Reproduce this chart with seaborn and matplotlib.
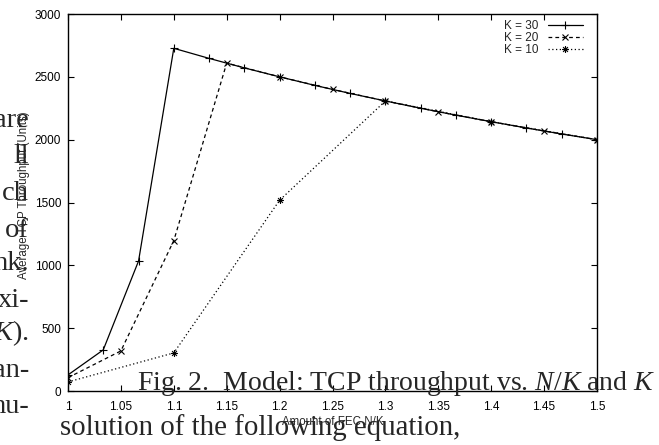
import numpy as np
import pandas as pd
import matplotlib
matplotlib.use("Agg")
import matplotlib.pyplot as plt
from matplotlib.path import Path
import seaborn as sns

# ---- data ----
x_k30 = [1.0, 1.0333, 1.0667, 1.1, 1.1333, 1.1667, 1.2, 1.2333, 1.2667, 1.3,
         1.3333, 1.3667, 1.4, 1.4333, 1.4667, 1.5]
y_k30 = [128, 327, 1035, 2727, 2647, 2571, 2500, 2432, 2368, 2308,
         2250, 2195, 2143, 2093, 2045, 2000]
x_k20 = [1.0, 1.05, 1.1, 1.15, 1.2, 1.25, 1.3, 1.35, 1.4, 1.45, 1.5]
y_k20 = [106, 319, 1197, 2609, 2500, 2400, 2308, 2222, 2143, 2069, 2000]
x_k10 = [1.0, 1.1, 1.2, 1.3, 1.4, 1.5]
y_k10 = [72, 303, 1518, 2308, 2143, 2000]
series_labels = ["K = 30", "K = 20", "K = 10"]
x_ticks = [1, 1.05, 1.1, 1.15, 1.2, 1.25, 1.3, 1.35, 1.4, 1.45, 1.5]
x_ticklabels = ["1", "1.05", "1.1", "1.15", "1.2", "1.25", "1.3", "1.35", "1.4", "1.45", "1.5"]
y_ticks = [0, 500, 1000, 1500, 2000, 2500, 3000]
x_label = "Amount of FEC N/K"
y_label = "Average TCP Throughput (Units)"

# overlapping text of the page
left_words = ["are", "ll", "ch", "of", "nk.", "xi-", "$K$).", "an-", "nu-"]
left_baselines = [127, 163, 200, 237, 270, 307, 340, 377, 413]
caption = "Fig. 2.  Model: TCP throughput vs. $N/K$ and $K$"
body_line = "solution of the following equation,"

sns.set_style("ticks")
plt.rcParams["font.family"] = ["Liberation Sans", "DejaVu Sans"]
plt.rcParams["mathtext.fontset"] = "custom"
plt.rcParams["mathtext.rm"] = "Liberation Serif"
plt.rcParams["mathtext.it"] = "Liberation Serif:italic"

W, H = 659, 445
fig = plt.figure(figsize=(W / 100, H / 100), dpi=100)
ax = fig.add_axes([68 / W, 1 - 391 / H, (597 - 68) / W, (391 - 14) / H])

# gnuplot-like star marker (plus + cross)
star = Path([(-1, 0), (1, 0), (0, -1), (0, 1), (-0.7, -0.7), (0.7, 0.7), (-0.7, 0.7), (0.7, -0.7)],
            [Path.MOVETO, Path.LINETO, Path.MOVETO, Path.LINETO,
             Path.MOVETO, Path.LINETO, Path.MOVETO, Path.LINETO])

df30 = pd.DataFrame({"x": x_k30, "y": y_k30})
df20 = pd.DataFrame({"x": x_k20, "y": y_k20})
df10 = pd.DataFrame({"x": x_k10, "y": y_k10})

common = dict(ax=ax, color="black", lw=0.9, markeredgewidth=0.8,
              markerfacecolor="none", markeredgecolor="black")
sns.lineplot(data=df30, x="x", y="y", marker="+", markersize=6,
             label=series_labels[0], **common)
sns.lineplot(data=df20, x="x", y="y", marker="x", markersize=4.5,
             label=series_labels[1], dashes=False, linestyle=(0, (3, 2.5)), **common)
sns.lineplot(data=df10, x="x", y="y", marker=star, markersize=5,
             label=series_labels[2], dashes=False, linestyle=(0, (1, 2)), **common)

ax.set_xlim(1, 1.5)
ax.set_ylim(0, 3000)
ax.set_xticks(x_ticks)
ax.set_xticklabels(x_ticklabels)
ax.set_yticks(y_ticks)
ax.tick_params(direction="in", length=4, width=0.8, top=True, right=True,
               labelsize=8.5, colors="black")
ax.tick_params(axis="x", pad=7)
ax.tick_params(axis="y", pad=5)
for s in ax.spines.values():
    s.set_visible(True)
    s.set_linewidth(1.0)
    s.set_color("black")

ax.set_xlabel(x_label, fontsize=8.3)
ax.set_ylabel(y_label, fontsize=8.3)
ax.xaxis.set_label_coords(0.5, -0.066)
ax.yaxis.set_label_coords(-0.072, 0.52)

leg = ax.legend(loc="upper right", bbox_to_anchor=(0.986, 1.0), frameon=False,
                markerfirst=False, fontsize=8.5,
                handlelength=3.0, handletextpad=0.8, labelspacing=0.0,
                borderpad=0.3, borderaxespad=0.25, numpoints=1)

# overlaid page text
serif = ["Liberation Serif", "DejaVu Serif"]
for w, yb in zip(left_words, left_baselines):
    fig.text(29 / W, 1 - yb / H, w, ha="right", va="baseline", fontsize=20.5,
             family=serif)
fig.text(137 / W, 1 - 390 / H, caption, ha="left", va="baseline", fontsize=20,
         family=serif)
fig.text(60 / W, 1 - 435 / H, body_line, ha="left", va="baseline", fontsize=20.8,
         family=serif)

fig.savefig("out.png", dpi=100)
